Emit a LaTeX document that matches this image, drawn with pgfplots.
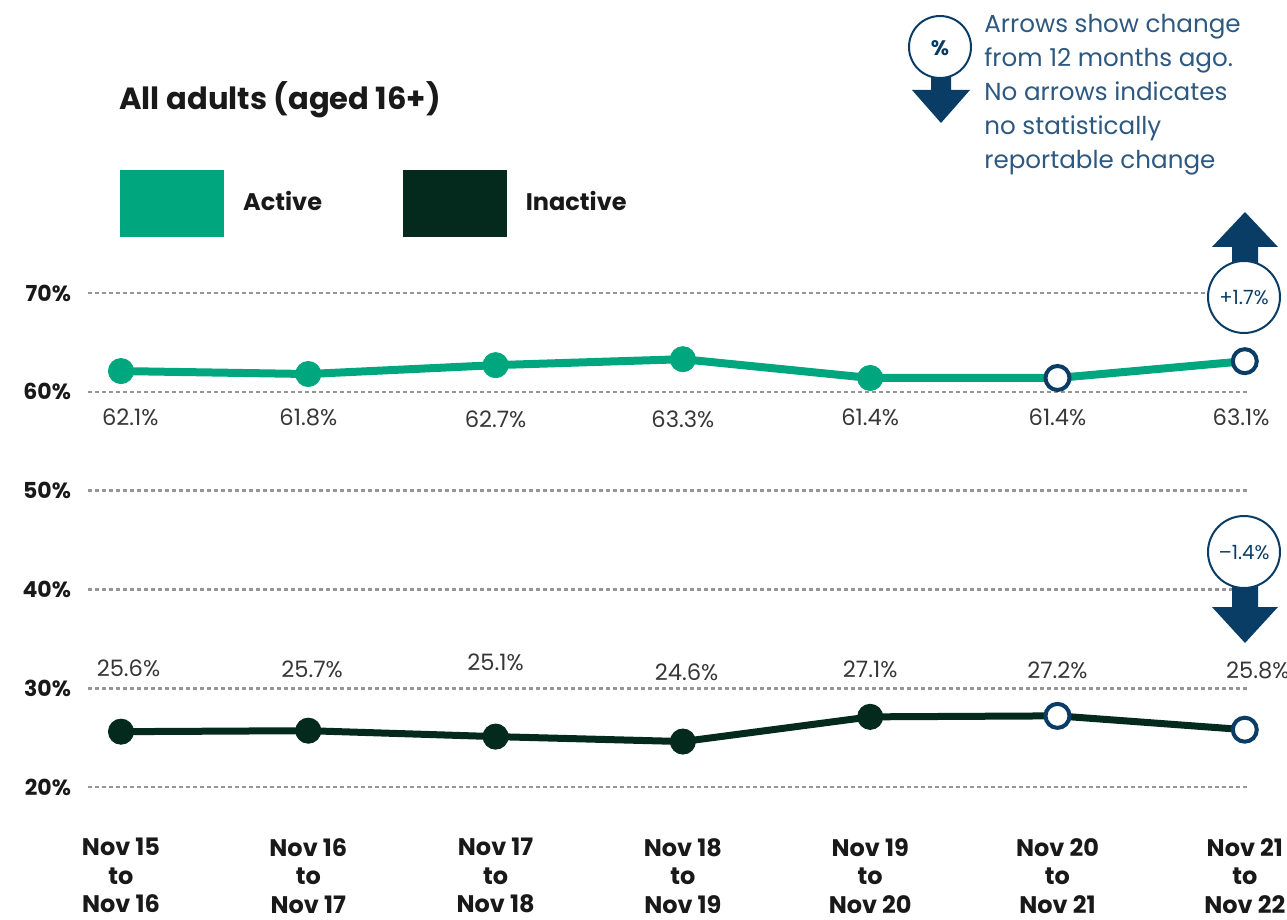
\documentclass[border=0pt]{standalone}
\usepackage{pgfplots}
\pgfplotsset{compat=1.18}
\usepackage{pgfplotstable}
\usepackage{fontspec}
\setmainfont{Poppins}
\definecolor{activeg}{RGB}{0,166,126}
\definecolor{inact}{RGB}{4,42,30}
\definecolor{navy}{RGB}{10,61,102}
\definecolor{notecol}{RGB}{45,88,128}
\definecolor{gridg}{RGB}{150,150,150}
\definecolor{labc}{RGB}{55,55,55}
\definecolor{tickc}{RGB}{25,25,25}

\pgfplotstableread{
x active inactive
0 62.1 25.6
1 61.8 25.7
2 62.7 25.1
3 63.3 24.6
4 61.4 27.1
5 61.4 27.2
6 63.1 25.8
}\datatab

\pgfplotstableread{
x y lab
0.05 57.37 62.1
1.0 57.37 61.8
2.0 57.17 62.7
3.0 57.17 63.3
4.0 57.37 61.4
5.0 57.37 61.4
5.98 57.37 63.1
}\actlab

\pgfplotstableread{
x y lab
0.04 32.0 25.6
1.02 31.9 25.7
2.0 32.6 25.1
3.02 31.6 24.6
4.0 31.9 27.1
5.0 31.8 27.2
6.07 31.8 25.8
}\inactlab

\begin{document}
\begin{tikzpicture}
\path[use as bounding box] (0pt,0pt) rectangle (643.5pt,-460pt);
\begin{axis}[
  at={(44pt,-393.5pt)}, anchor=south west,
  scale only axis, width=580pt, height=247pt,
  xmin=-0.1762, xmax=6.0171, ymin=20, ymax=70,
  clip=false,
  axis line style={draw=none},
  tick style={draw=none},
  major tick length=0pt,
  ymajorgrids,
  grid style={gridg, line width=1.3pt, dash pattern=on 1.8pt off 1.7pt},
  ytick={20,30,40,50,60,70},
  yticklabels={20\%,30\%,40\%,50\%,60\%,70\%},
  yticklabel style={font=\bfseries\fontsize{11}{13}\selectfont, text=tickc, xshift=-5pt},
  xtick={0,1,2,3,4,5,6},
  xticklabels={{Nov 15\\to\\Nov 16},{Nov 16\\to\\Nov 17},{Nov 17\\to\\Nov 18},{Nov 18\\to\\Nov 19},{Nov 19\\to\\Nov 20},{Nov 20\\to\\Nov 21},{Nov 21\\to\\Nov 22}},
  xticklabel style={align=center, inner sep=0pt, font=\bfseries\fontsize{12}{14.25}\selectfont, text=tickc, yshift=-25.5pt},
  legend columns=2,
  legend style={at={(axis description cs:0.0276,1.249)}, anchor=north west, draw=none, fill=none, inner sep=0pt,
    font=\bfseries\fontsize{12}{14}\selectfont, text=tickc,
    /tikz/every odd column/.append style={column sep=7.5pt},
    /tikz/every even column/.append style={column sep=38.5pt}},
]
\addlegendimage{legend image code/.code={\fill[activeg] (0pt,-17.3pt) rectangle (51.5pt,15.7pt);}}
\addlegendentry{Active}
\addlegendimage{legend image code/.code={\fill[inact] (0pt,-17.3pt) rectangle (51.5pt,15.7pt);}}
\addlegendentry{Inactive}

\addplot[activeg, line width=4pt, no marks] table[x=x,y=active]{\datatab};
\addplot[only marks, mark=*, mark size=6.3pt, mark options={fill=activeg, draw=activeg, line width=0.4pt}, skip coords between index={5}{7}] table[x=x,y=active]{\datatab};
\addplot[only marks, mark=*, mark size=6pt, mark options={fill=white, draw=navy, line width=2pt}, skip coords between index={0}{5}] table[x=x,y=active]{\datatab};

\addplot[inact, line width=3.5pt, no marks] table[x=x,y=inactive]{\datatab};
\addplot[only marks, mark=*, mark size=6.3pt, mark options={fill=inact, draw=inact, line width=0.4pt}, skip coords between index={5}{7}] table[x=x,y=inactive]{\datatab};
\addplot[only marks, mark=*, mark size=6pt, mark options={fill=white, draw=navy, line width=2pt}, skip coords between index={0}{5}] table[x=x,y=inactive]{\datatab};

\addplot[draw=none, point meta=explicit symbolic, nodes near coords={\pgfplotspointmeta\%},
  nodes near coords style={anchor=center, inner sep=0pt, font=\fontsize{11.3}{13}\selectfont, text=labc}]
  table[x=x,y=y,meta=lab]{\actlab};
\addplot[draw=none, point meta=explicit symbolic, nodes near coords={\pgfplotspointmeta\%},
  nodes near coords style={anchor=center, inner sep=0pt, font=\fontsize{11.3}{13}\selectfont, text=labc}]
  table[x=x,y=y,meta=lab]{\inactlab};
\end{axis}

\begin{scope}[x=0.5pt,y=-0.5pt]
\node[anchor=base west, inner sep=0pt, font=\bfseries\fontsize{15.3}{18}\selectfont, text=tickc] at (119,110) {All adults (aged 16+)};
\node[anchor=north west, align=left, inner sep=0pt, text=notecol, font=\fontsize{12.3}{17}\selectfont] at (984,14)
  {Arrows show change\\from 12 months ago.\\No arrows indicates\\no statistically\\reportable change};
% key icon
\fill[navy] (931,74)--(931,90)--(912,90)--(941,123)--(970,90)--(951,90)--(951,74)--cycle;
\draw[navy, line width=1pt, fill=white] (940,47) circle[radius=31];
\node[text=navy, font=\bfseries\fontsize{10.5}{12}\selectfont] at (940,48) {\%};
% up arrow (Active)
\fill[navy] (1232,268)--(1232,247)--(1212,247)--(1245,212)--(1278,247)--(1258,247)--(1258,268)--cycle;
\draw[navy, line width=1pt, fill=white] (1244,297) circle[radius=36];
\node[text=navy, font=\fontsize{9.8}{11}\selectfont] at (1244,298) {+1.7\%};
% down arrow (Inactive)
\fill[navy] (1232,582)--(1232,607)--(1212,607)--(1245,643)--(1278,607)--(1258,607)--(1258,582)--cycle;
\draw[navy, line width=1pt, fill=white] (1244,552) circle[radius=36];
\node[text=navy, font=\fontsize{9.8}{11}\selectfont] at (1244,553) {–1.4\%};
\end{scope}
\end{tikzpicture}
\end{document}
